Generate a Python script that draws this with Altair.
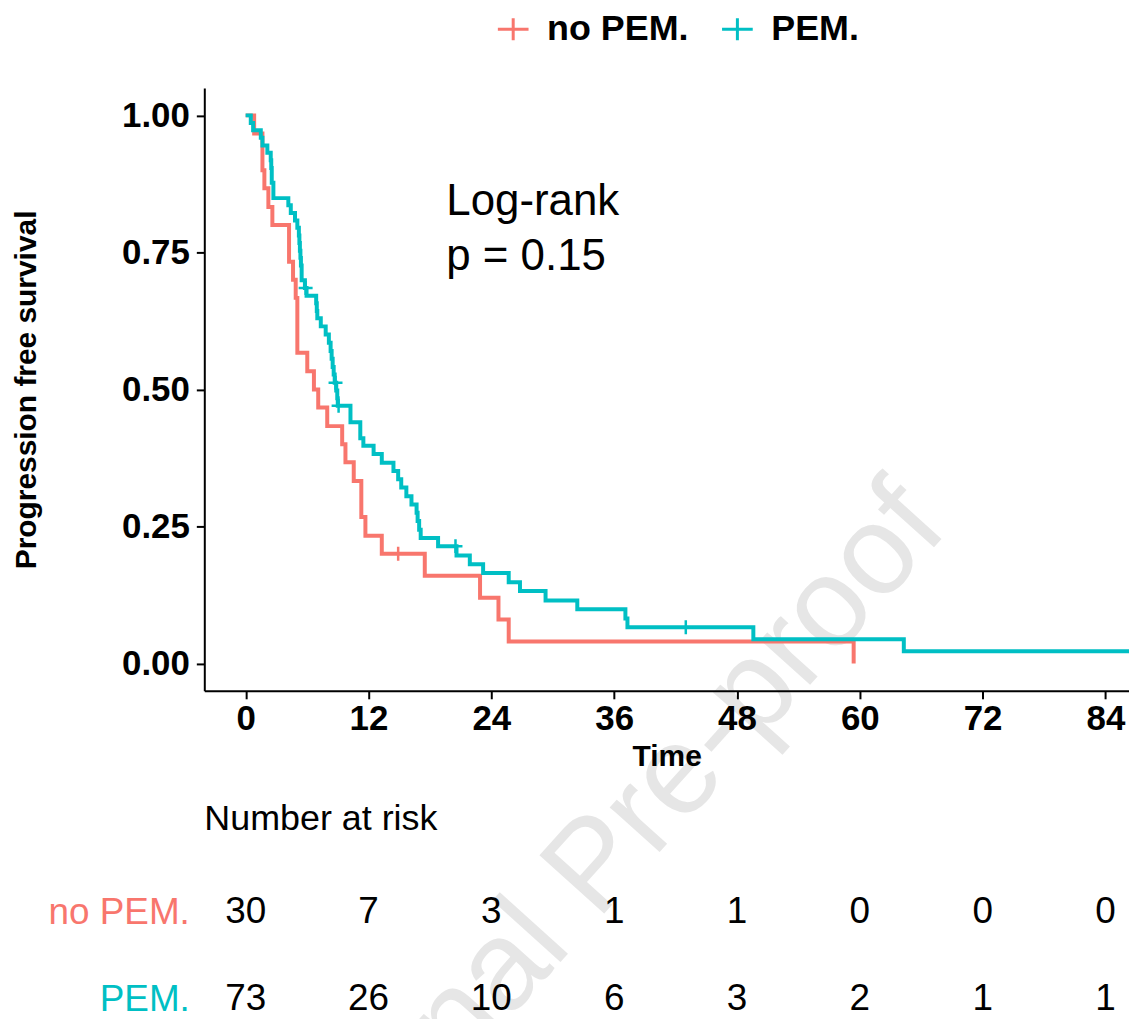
import altair as alt
import pandas as pd

FONT = "Liberation Sans"

GROUPS = ["no PEM.", "PEM."]
COLORS = ["#F8766D", "#00BFC4"]

# Kaplan-Meier step curves (time in months, survival)
NOPEM_TIME = [0, 0.83, 1.64, 1.83, 2.22, 2.61, 4.24, 4.63, 4.89, 5.05, 6.02, 6.67,
              7.09, 7.97, 9.43, 9.75, 10.56, 11.3, 11.7, 13.3, 17.5, 22.9, 24.7,
              25.7, 59.4]
NOPEM_SURV = [1.0, 0.967, 0.9, 0.867, 0.833, 0.8, 0.733, 0.7, 0.667, 0.567, 0.533, 0.5,
              0.467, 0.433, 0.4, 0.367, 0.333, 0.267, 0.233, 0.2, 0.16, 0.12, 0.08,
              0.04, 0.0]

PEM_TIME = [0, 0.5, 0.73, 1.48, 1.64, 2.12, 2.45, 2.5, 2.55, 2.71, 4.17, 4.41, 4.82,
            5.05, 5.2, 5.25, 5.3, 5.35, 5.4, 5.47, 5.79, 5.95, 6.89, 6.95, 7.0, 7.34,
            7.82, 8.13, 8.3, 8.4, 8.5, 8.6, 8.7, 8.85, 8.95, 9.0, 10.24, 11.2, 11.5,
            12.5, 13.3, 14.44, 14.9, 15.2, 15.7, 16.2, 16.7, 16.8, 16.95, 17.1, 18.8,
            20.6, 21.9, 23.2, 25.7, 26.8, 29.3, 32.4, 37.1, 37.3, 49.6, 64.3, 86.3]
PEM_SURV = [1.0, 0.986, 0.973, 0.959, 0.945, 0.932, 0.918, 0.904, 0.877, 0.849, 0.836,
            0.822, 0.808, 0.795, 0.781, 0.767, 0.753, 0.740, 0.726, 0.699, 0.685, 0.671,
            0.657, 0.643, 0.630, 0.615, 0.600, 0.585, 0.570, 0.556, 0.541, 0.527, 0.512,
            0.498, 0.484, 0.470, 0.440, 0.411, 0.397, 0.382, 0.366, 0.351, 0.336, 0.321,
            0.305, 0.290, 0.275, 0.260, 0.244, 0.229, 0.214, 0.197, 0.181, 0.165, 0.148,
            0.132, 0.115, 0.099, 0.082, 0.066, 0.044, 0.022, 0.022]

# censoring marks
NOPEM_CENS_TIME = [14.9]
NOPEM_CENS_SURV = [0.20]
PEM_CENS_TIME = [5.86, 8.78, 9.08, 20.5, 43.0]
PEM_CENS_SURV = [0.685, 0.512, 0.470, 0.214, 0.066]

# number at risk table
RISK_TIMES = [0, 12, 24, 36, 48, 60, 72, 84]
RISK_NOPEM = [30, 7, 3, 1, 1, 0, 0, 0]
RISK_PEM = [73, 26, 10, 6, 3, 2, 1, 1]

X_TICKS = [0, 12, 24, 36, 48, 60, 72, 84]
Y_TICKS = [0.0, 0.25, 0.5, 0.75, 1.0]
X_DOMAIN = [-4.04, 86.3]
Y_DOMAIN = [-0.05, 1.05]

PVAL_LINES = ["Log-rank", "p = 0.15"]
PVAL_TIME = 19.6
PVAL_SURV = [0.842, 0.742]

WATERMARK = "Journal Pre-proof"

# ---- tables built from the lists ----
curves = pd.concat([
    pd.DataFrame({"group": GROUPS[0], "time": NOPEM_TIME, "surv": NOPEM_SURV}),
    pd.DataFrame({"group": GROUPS[1], "time": PEM_TIME, "surv": PEM_SURV}),
], ignore_index=True)

cens = pd.concat([
    pd.DataFrame({"group": GROUPS[0], "time": NOPEM_CENS_TIME, "surv": NOPEM_CENS_SURV}),
    pd.DataFrame({"group": GROUPS[1], "time": PEM_CENS_TIME, "surv": PEM_CENS_SURV}),
], ignore_index=True)

risk = pd.concat([
    pd.DataFrame({"group": GROUPS[0], "time": RISK_TIMES, "n": RISK_NOPEM}),
    pd.DataFrame({"group": GROUPS[1], "time": RISK_TIMES, "n": RISK_PEM}),
], ignore_index=True)

pval = pd.DataFrame({"label": PVAL_LINES, "time": [PVAL_TIME] * len(PVAL_LINES), "surv": PVAL_SURV})
wm = pd.DataFrame({"label": [WATERMARK]})

x_enc = alt.X(
    "time:Q",
    scale=alt.Scale(domain=X_DOMAIN, nice=False, zero=False),
    axis=alt.Axis(values=X_TICKS, title="Time", grid=False, format="d", zindex=1,
                  labelFontSize=35, labelFontWeight="bold", labelColor="black",
                  labelPadding=3, labelFlush=False, labelFont=FONT,
                  tickSize=8, tickWidth=2, tickColor="black",
                  domainColor="black", domainWidth=2,
                  titleFontSize=30, titleFontWeight="bold", titleColor="black",
                  titleFont=FONT, titlePadding=5),
)
y_enc = alt.Y(
    "surv:Q",
    scale=alt.Scale(domain=Y_DOMAIN, nice=False, zero=False),
    axis=alt.Axis(values=Y_TICKS, format=".2f", title="Progression free survival",
                  grid=False, zindex=1, labelFontSize=35, labelFontWeight="bold",
                  labelColor="black", labelPadding=7, labelFont=FONT,
                  tickSize=8, tickWidth=2, tickColor="black",
                  domainColor="black", domainWidth=2,
                  titleFontSize=30, titleFontWeight="bold", titleColor="black",
                  titleFont=FONT, titlePadding=80),
)
color_scale = alt.Scale(domain=GROUPS, range=COLORS)

legend = alt.Legend(
    title=None, orient="none", direction="horizontal", legendX=292, legendY=-77,
    symbolType="M-1.4,0H1.4M0,-1V1", symbolSize=484, symbolStrokeWidth=3,
    labelFontSize=36, labelFontWeight="bold", labelColor="black", labelFont=FONT,
    labelOffset=16, columnPadding=27, padding=0,
)

watermark = alt.Chart(wm).mark_text(
    angle=312, fontSize=127, color="#e6e6e6", align="center", baseline="middle", font=FONT
).encode(text="label:N", x=alt.value(392), y=alt.value(782))

lines = alt.Chart(curves).mark_line(
    interpolate="step-after", strokeWidth=4, clip=True
).encode(
    x=x_enc, y=y_enc,
    color=alt.Color("group:N", scale=color_scale, legend=legend),
)

marks = alt.Chart(cens).mark_point(
    shape="M-1,0H1M0,-1V1", size=196, filled=False, strokeWidth=2.5, opacity=1
).encode(
    x=x_enc, y=y_enc,
    color=alt.Color("group:N", scale=color_scale, legend=None),
)

annot = alt.Chart(pval).mark_text(
    align="left", baseline="middle", fontSize=44, color="black", font=FONT
).encode(x=x_enc, y=y_enc, text="label:N")

main = alt.layer(watermark, lines, marks, annot).properties(width=928, height=605)

table = alt.Chart(risk).mark_text(
    fontSize=37, color="black", font=FONT, baseline="middle", align="center"
).encode(
    x=alt.X("time:Q", scale=alt.Scale(domain=X_DOMAIN, nice=False, zero=False), axis=None),
    y=alt.Y("group:N", sort=GROUPS, scale=alt.Scale(domain=GROUPS),
            axis=alt.Axis(title=None, domain=False, ticks=False, labelFontSize=37,
                          labelPadding=15, labelFont=FONT,
                          labelColor={"condition": {"test": "datum.value == 'PEM.'",
                                                    "value": COLORS[1]},
                                      "value": COLORS[0]})),
    text="n:Q",
).properties(
    width=928, height=174,
    title=alt.TitleParams("Number at risk", anchor="start", frame="group", fontSize=36,
                          fontWeight="normal", color="black", font=FONT, offset=31),
)

chart = alt.vconcat(main, table, spacing=179, bounds="flush").properties(
    padding={"left": 3, "top": 1, "right": 0, "bottom": 0}
).configure(font=FONT).configure_view(stroke=None)

chart.save("out.html", embed_options={"renderer": "svg", "actions": False})
